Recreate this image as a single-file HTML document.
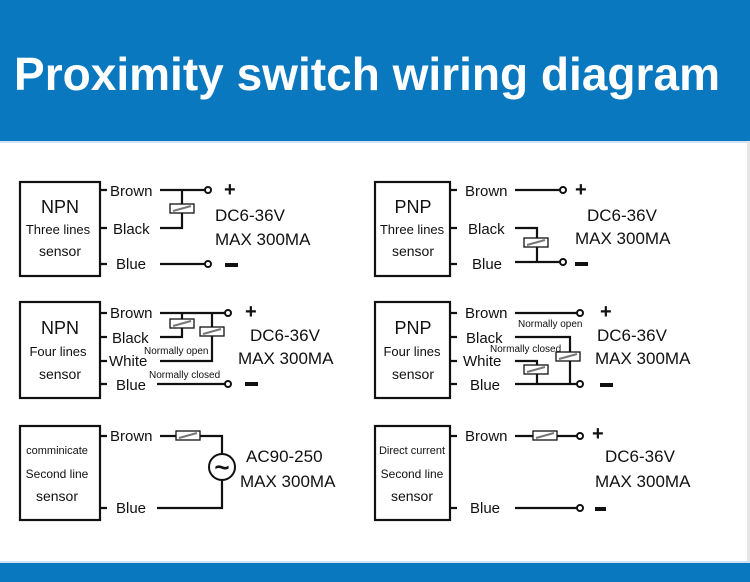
<!DOCTYPE html>
<html><head><meta charset="utf-8"><style>
html,body{margin:0;padding:0;background:#fff;}
svg{display:block;font-family:"Liberation Sans",Arial,sans-serif;}
</style></head><body>
<svg width="750" height="582" viewBox="0 0 750 582" xmlns="http://www.w3.org/2000/svg">
<defs>
<g id="relay"><rect x="0" y="0" width="24" height="9" fill="#fff" stroke="#111" stroke-width="1.3"/><line x1="3" y1="7" x2="21" y2="2" stroke="#777" stroke-width="2"/></g>
</defs>
<rect x="0" y="0" width="750" height="141" fill="#0a78bf"/>
<rect x="0" y="141" width="750" height="2" fill="#cfe3f3"/>
<rect x="747" y="141" width="3" height="422" fill="#e6e6e6"/>
<rect x="0" y="563" width="750" height="19" fill="#0a78bf"/>
<rect x="0" y="561" width="750" height="2" fill="#cfe3f3"/>
<text x="14" y="90" font-size="46" font-weight="bold" fill="#fff" textLength="706" lengthAdjust="spacingAndGlyphs">Proximity switch wiring diagram</text>

<g stroke="#111" stroke-width="2.2" fill="none">
<rect x="20" y="182" width="80" height="94"/>
<rect x="20" y="302" width="80" height="96"/>
<rect x="20" y="426" width="80" height="94"/>
<rect x="375" y="182" width="75" height="94"/>
<rect x="375" y="302" width="75" height="96"/>
<rect x="375" y="426" width="75" height="94"/>
<path d="M100 190H107M100 228H107M100 264H107"/>
<path d="M100 313H107M100 337H107M100 361H107M100 384H107"/>
<path d="M100 436H107M100 508H107"/>
<path d="M450 190H457M450 228H457M450 264H457"/>
<path d="M450 313H457M450 337H457M450 361H457M450 384H457"/>
<path d="M450 436H457M450 508H457"/>
<path d="M160 190H205M182 190V228H160M160 264H205"/>
<path d="M160 313H225M182 313V337H160M212 313V361H160M157 384H225"/>
<path d="M160 436H222V454M222 480V508H157"/>
<path d="M515 190H560M515 228H537V262M515 262H560"/>
<path d="M515 313H577M515 337H570V384M515 361H537V384M515 384H577"/>
<path d="M515 436H577M515 508H577"/>
</g>
<g fill="#fff" stroke="#111" stroke-width="2">
<circle cx="208" cy="190" r="3"/><circle cx="208" cy="264" r="3"/>
<circle cx="228" cy="313" r="3"/><circle cx="228" cy="384" r="3"/>
<circle cx="563" cy="190" r="3"/><circle cx="563" cy="262" r="3"/>
<circle cx="580" cy="313" r="3"/><circle cx="580" cy="384" r="3"/>
<circle cx="580" cy="436" r="3"/><circle cx="580" cy="508" r="3"/>
<circle cx="222" cy="467" r="13"/>
</g>
<text x="222" y="476" font-size="26" font-weight="bold" text-anchor="middle" fill="#111">~</text>
<use href="#relay" x="170" y="204"/>
<use href="#relay" x="170" y="319"/>
<use href="#relay" x="200" y="327"/>
<use href="#relay" x="524" y="238"/>
<use href="#relay" x="556" y="352"/>
<use href="#relay" x="524" y="365"/>
<use href="#relay" x="176" y="431"/>
<use href="#relay" x="533" y="431"/>

<g fill="#111" font-size="15">
<text x="110" y="196">Brown</text><text x="113" y="234">Black</text><text x="116" y="269">Blue</text>
<text x="110" y="318">Brown</text><text x="112" y="343">Black</text><text x="109" y="366">White</text><text x="116" y="390">Blue</text>
<text x="110" y="441">Brown</text><text x="116" y="513">Blue</text>
<text x="465" y="196">Brown</text><text x="468" y="234">Black</text><text x="472" y="269">Blue</text>
<text x="465" y="318">Brown</text><text x="466" y="343">Black</text><text x="463" y="366">White</text><text x="470" y="390">Blue</text>
<text x="465" y="441">Brown</text><text x="470" y="513">Blue</text>
</g>
<g fill="#111" font-size="10">
<text x="144" y="354">Normally open</text><text x="149" y="378">Normally closed</text>
<text x="518" y="327">Normally open</text><text x="490" y="352">Normally closed</text>
</g>
<g fill="#111" text-anchor="middle">
<text x="60" y="213" font-size="18">NPN</text><text x="58" y="234" font-size="13">Three lines</text><text x="60" y="256" font-size="14">sensor</text>
<text x="60" y="334" font-size="18">NPN</text><text x="58" y="356" font-size="13">Four lines</text><text x="60" y="379" font-size="14">sensor</text>
<text x="57" y="454" font-size="11">comminicate</text><text x="57" y="478" font-size="12">Second line</text><text x="57" y="501" font-size="14">sensor</text>
<text x="413" y="213" font-size="18">PNP</text><text x="412" y="234" font-size="13">Three lines</text><text x="413" y="256" font-size="14">sensor</text>
<text x="413" y="334" font-size="18">PNP</text><text x="412" y="356" font-size="13">Four lines</text><text x="413" y="379" font-size="14">sensor</text>
<text x="412" y="454" font-size="11">Direct current</text><text x="412" y="478" font-size="12">Second line</text><text x="412" y="501" font-size="14">sensor</text>
</g>
<g fill="#111" font-size="17">
<text x="215" y="221">DC6-36V</text><text x="215" y="245">MAX 300MA</text>
<text x="250" y="341">DC6-36V</text><text x="238" y="364">MAX 300MA</text>
<text x="246" y="462">AC90-250</text><text x="240" y="487">MAX 300MA</text>
<text x="587" y="221">DC6-36V</text><text x="575" y="244">MAX 300MA</text>
<text x="597" y="341">DC6-36V</text><text x="595" y="364">MAX 300MA</text>
<text x="605" y="462">DC6-36V</text><text x="595" y="487">MAX 300MA</text>
</g>
<g fill="#111" font-size="20" font-weight="bold">
<text x="224" y="196">+</text><text x="245" y="318">+</text><text x="575" y="196">+</text><text x="600" y="318">+</text><text x="592" y="440">+</text>
</g>
<g fill="#111">
<rect x="225" y="263" width="13" height="4"/><rect x="245" y="382" width="13" height="4"/>
<rect x="575" y="262" width="13" height="4"/><rect x="600" y="383" width="13" height="4"/><rect x="595" y="507" width="11" height="4"/>
</g>
</svg>
</body></html>
